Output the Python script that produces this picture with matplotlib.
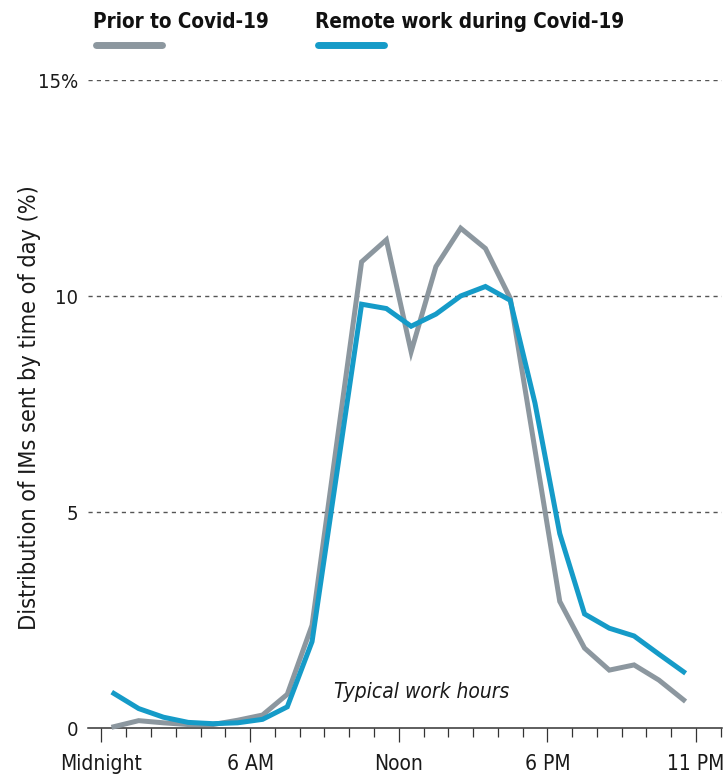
import numpy as np
import matplotlib
matplotlib.use("Agg")
import matplotlib.pyplot as plt
from matplotlib.lines import Line2D
from matplotlib.ticker import MultipleLocator, FixedLocator

# Hourly share of instant messages (%), plotted at the middle of each hour
hour_mid = np.arange(24) + 0.5
prior = [0.03, 0.17, 0.12, 0.08, 0.08, 0.18, 0.30, 0.78, 2.38, 6.60,
         10.79, 11.30, 8.71, 10.68, 11.57, 11.10, 9.95, 6.44, 2.93, 1.85,
         1.34, 1.46, 1.11, 0.65]
remote = [0.80, 0.45, 0.25, 0.13, 0.10, 0.12, 0.20, 0.49, 2.00, 5.90,
          9.81, 9.71, 9.30, 9.58, 10.00, 10.22, 9.90, 7.52, 4.50, 2.64,
          2.31, 2.13, 1.71, 1.30]

series_names = ["Prior to Covid-19", "Remote work during Covid-19"]
x_tick_pos = [0, 6, 12, 18, 24]
x_tick_labels = ["Midnight", "6 AM", "Noon", "6 PM", "11 PM"]
y_tick_pos = [0, 5, 10, 15]
y_tick_labels = ["0", "5", "10", "15%"]

GRAY = "#8c979f"
BLUE = "#159bc8"
DARK = "#333333"

plt.rcParams["font.family"] = ["DejaVu Sans"]
plt.rcParams["font.stretch"] = "condensed"

W, H = 727, 779
fig = plt.figure(figsize=(W / 100, H / 100), dpi=100)
ax = fig.add_axes([88 / W, 51 / H, (722 - 88) / W, (728 - 80) / H])

ax.plot(hour_mid, prior, color=GRAY, lw=3.6, solid_joinstyle="miter",
        clip_on=False, zorder=3)
ax.plot(hour_mid, remote, color=BLUE, lw=3.6, solid_joinstyle="miter",
        clip_on=False, zorder=4)

ax.set_xlim(-0.545, 25.05)
ax.set_ylim(0, 15)

for s in ["top", "right", "left"]:
    ax.spines[s].set_visible(False)
ax.spines["bottom"].set_color(DARK)
ax.spines["bottom"].set_linewidth(1.1)

# dashed reference lines
for yv in y_tick_pos[1:]:
    ax.axhline(yv, color="#555555", lw=1.0, ls=(0, (3, 3)), zorder=1)

ax.xaxis.set_major_locator(FixedLocator(x_tick_pos))
ax.xaxis.set_minor_locator(MultipleLocator(1))
ax.set_xticklabels(x_tick_labels)
ax.tick_params(axis="x", which="major", length=10, width=0.9, color=DARK,
               labelsize=15, pad=9, labelcolor="#1a1a1a")
ax.tick_params(axis="x", which="minor", length=6.5, width=0.9, color=DARK)

ax.set_yticks(y_tick_pos)
ax.set_yticklabels(y_tick_labels)
ax.tick_params(axis="y", length=0, labelsize=14.5, pad=7,
               labelcolor="#1a1a1a")

fig.text(30 / W, 1 - 408 / H, "Distribution of IMs sent by time of day (%)",
         rotation=90, ha="center", va="center", fontsize=16.8,
         color="#1a1a1a")

ax.text(12.94, 0.83, "Typical work hours", ha="center", va="center",
        fontsize=15, style="italic", color="#1a1a1a")

# legend: bold labels with a short swatch underneath
legend_items = [(93, 165, series_names[0], GRAY),
                (315, 387, series_names[1], BLUE)]
for x0, x1, name, col in legend_items:
    fig.text(x0 / W, 1 - 22 / H, name, ha="left", va="center",
             fontsize=14.8, fontweight="bold", color="#111111")
    fig.add_artist(Line2D([(x0 + 3) / W, (x1 - 3) / W],
                          [1 - 45 / H, 1 - 45 / H],
                          transform=fig.transFigure, color=col, lw=5,
                          solid_capstyle="round"))

fig.savefig("out.png", dpi=100)
